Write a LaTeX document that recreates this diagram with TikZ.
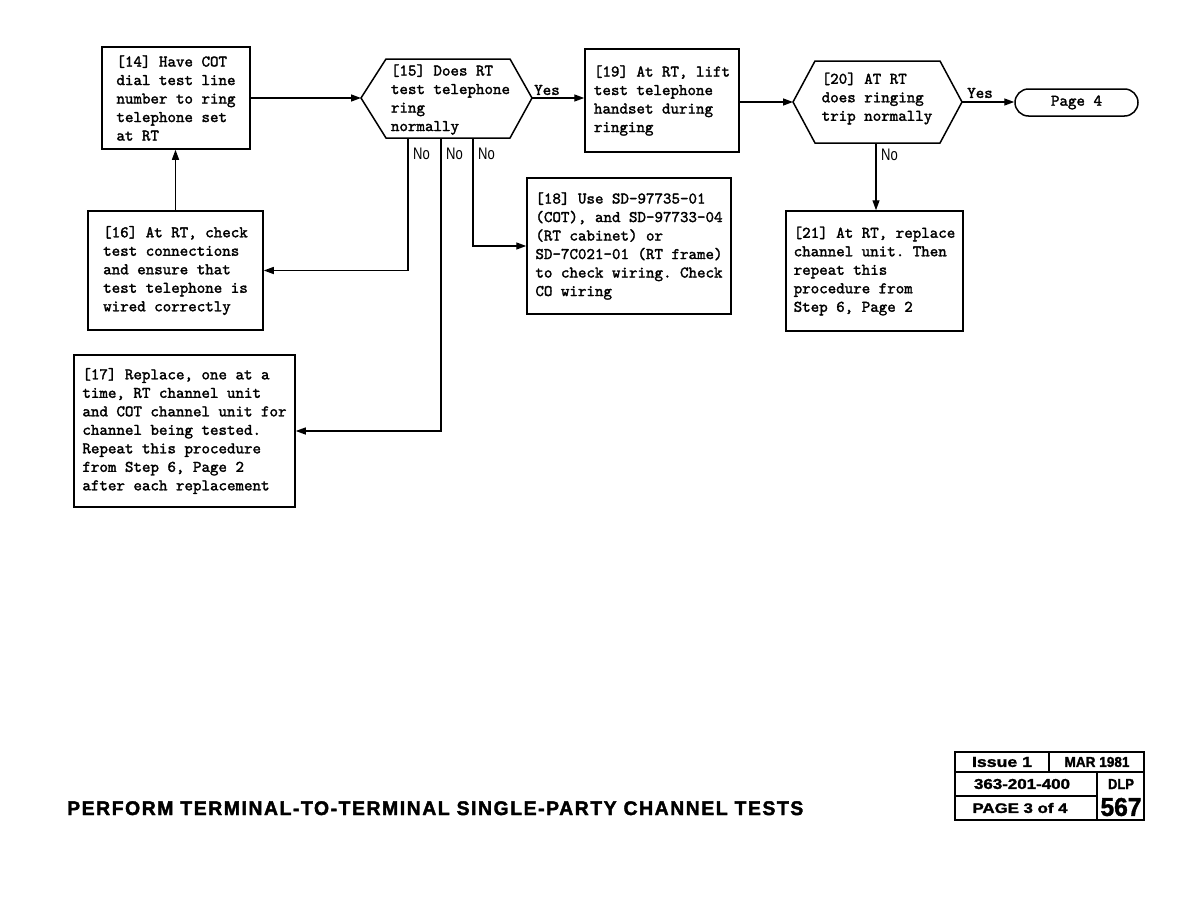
\documentclass[tikz,border=0pt]{standalone}
\usepackage{fontspec}
\usepackage{graphicx}
\usetikzlibrary{arrows.meta,calc}
\frenchspacing
\newfontfamily\monof[FakeBold=1.8]{lmmono10-regular.otf}
\newfontfamily\sansf[FakeStretch=0.78]{Liberation Sans}
\newfontfamily\sansbf[FakeBold=1.5]{Liberation Sans Bold}
\newfontfamily\titlef[FakeBold=2,LetterSpace=8]{Liberation Sans Bold}
\begin{document}
\begin{tikzpicture}[x=1pt,y=-1pt,
  arr/.style={line width=1.3pt,-{Triangle[length=10pt,width=7pt]}},
  box/.style={draw,line width=1.5pt,align=left,inner sep=0pt,
    font=\monof\fontsize{16.2}{18.5}\selectfont\frenchspacing},
  hextext/.style={align=left,inner sep=0pt,font=\monof\fontsize{16.2}{18.5}\selectfont},
  yeslbl/.style={inner sep=0pt,font=\monof\fontsize{16.2}{18.5}\selectfont},
  nolbl/.style={inner sep=0pt,anchor=west,font=\sansf\fontsize{16.7}{18}\selectfont},
  foot/.style={inner sep=0pt}]
\fill[white] (0,0) rectangle (1188,918);
\useasboundingbox (0,0) rectangle (1188,918);

% boxes
\node[box,minimum width=148pt,minimum height=102pt] (b14) at (176,98)
  {[14] Have COT\\dial test line\\number to ring\\telephone set\\at RT};
\node[box,minimum width=175pt,minimum height=119pt] (b16) at (175.5,270.5)
  {[16] At RT, check\\test connections\\and ensure that\\test telephone is\\wired correctly};
\node[box,minimum width=221pt,minimum height=152pt] (b17) at (184.5,431)
  {[17] Replace, one at a\\time, RT channel unit\\and COT channel unit for\\channel being tested.\\Repeat this procedure\\from Step 6, Page 2\\after each replacement};
\node[box,minimum width=204pt,minimum height=136pt] (b18) at (629,246)
  {[18] Use SD-97735-01\\(COT), and SD-97733-04\\(RT cabinet) or\\SD-7C021-01 (RT frame)\\to check wiring. Check\\CO wiring};
\node[box,minimum width=154pt,minimum height=103pt] (b19) at (662,100.5)
  {[19] At RT, lift\\test telephone\\handset during\\ringing};
\node[box,minimum width=177pt,minimum height=120pt] (b21) at (874.5,271)
  {[21] At RT, replace\\channel unit. Then\\repeat this\\procedure from\\Step 6, Page 2};
\node[box,rounded corners=13.5pt,minimum width=123pt,minimum height=27pt] (p4) at (1076.5,102.5)
  {Page 4};

% decision 15
\coordinate (h15w) at (361,98);
\coordinate (h15e) at (532,98);
\draw[line width=1.5pt] (h15w) -- (386,59) -- (510,59) -- (h15e) -- (510,138) -- (386,138) -- cycle;
\node[hextext] (h15) at (450.5,99.5) {[15] Does RT\\test telephone\\ring\\normally};
% decision 20
\coordinate (h20w) at (793,102);
\coordinate (h20e) at (962,102);
\draw[line width=1.5pt] (h20w) -- (815,61) -- (940,61) -- (h20e) -- (940,143) -- (815,143) -- cycle;
\node[hextext] (h20) at (877,98.5) {[20] AT RT\\does ringing\\trip normally};

% connectors
\draw[arr] (b14.east) -- (h15w);
\draw[arr] (h15e) -- (h15e -| b19.west);
\node[yeslbl] (y15) at (547,90) {Yes};
\draw[arr] (b19.east |- h20w) -- (h20w);
\draw[arr] (h20e) -- (h20e -| p4.west);
\node[yeslbl] (y20) at (980,93) {Yes};

\coordinate (n20) at (876,143);
\draw[arr] (n20) -- (n20 |- b21.north);
\node[nolbl] (no20) at (881,155) {No};

\coordinate (n1) at (408,138);
\coordinate (n2) at (441,138);
\coordinate (n3) at (473,138);
\draw[arr] (n1) |- (b16.east);
\draw[arr] (n2) |- (b17.east);
\draw[arr] (n3) |- (b18.west);
\node[nolbl] (no1) at (413,154) {No};
\node[nolbl] (no2) at (446,154) {No};
\node[nolbl] (no3) at (478,154) {No};

\draw[arr] (b16.north) -- (b16.north |- b14.south);

% title
\node[anchor=base west,inner sep=0pt] (title) at (67,815)
  {\resizebox{736pt}{13.8pt}{\titlef PERFORM TERMINAL-TO-TERMINAL SINGLE-PARTY CHANNEL TESTS}};

% footer table
\draw[line width=1.8pt] (955,752) rectangle (1144,820);
\draw[line width=1.5pt] (955,772) -- (1144,772);
\draw[line width=1.5pt] (955,796) -- (1097,796);
\draw[line width=1.5pt] (1049,752) -- (1049,772);
\draw[line width=1.5pt] (1097,772) -- (1097,820);
\node[foot] (f1) at (1002,762) {\resizebox{60pt}{10pt}{\sansbf Issue 1}};
\node[foot] (f2) at (1097,762) {\resizebox{65pt}{10pt}{\sansbf MAR 1981}};
\node[foot] (f3) at (1022,784) {\resizebox{96pt}{10pt}{\sansbf 363-201-400}};
\node[foot] (f4) at (1121,784) {\resizebox{26pt}{10pt}{\sansbf DLP}};
\node[foot] (f5) at (1020,808) {\resizebox{95pt}{10pt}{\sansbf PAGE 3 of 4}};
\node[foot] (f6) at (1121,807) {\resizebox{41pt}{18pt}{\sansbf 567}};
\end{tikzpicture}
\end{document}
